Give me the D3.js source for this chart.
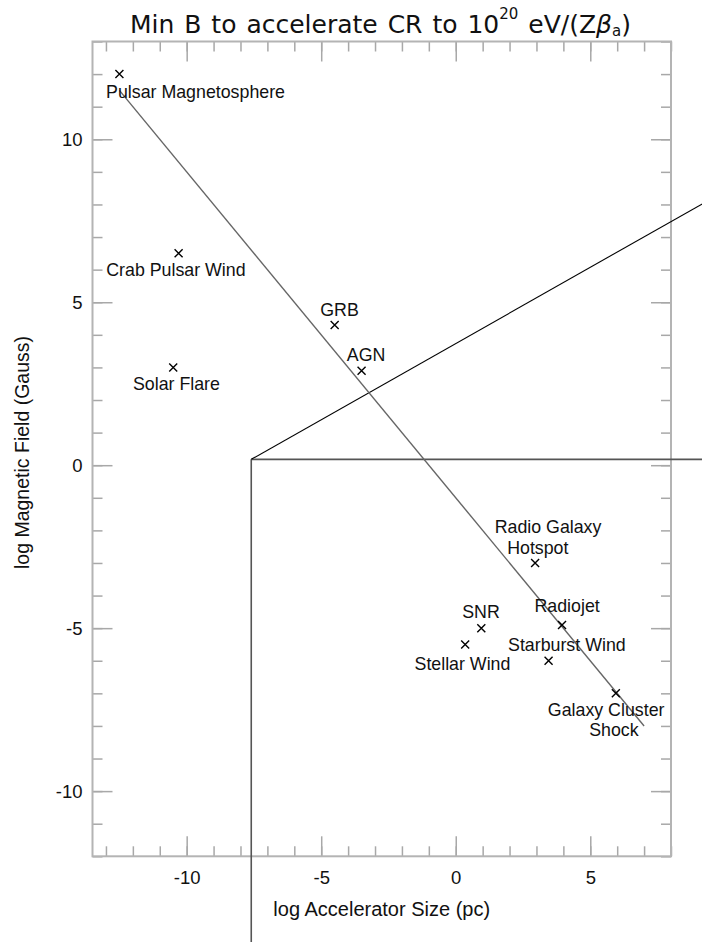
<!DOCTYPE html>
<html><head><meta charset="utf-8">
<script src="https://cdn.jsdelivr.net/npm/d3@7"></script>
<style>html,body{margin:0;padding:0;background:#fff;overflow:hidden;}</style>
</head><body><div id="chart"></div>
<script>
// ---- data ----
const sourceNames = ["Pulsar Magnetosphere","Crab Pulsar Wind","Solar Flare","GRB","AGN",
  "Radio Galaxy Hotspot","Radiojet","SNR","Stellar Wind","Starburst Wind","Galaxy Cluster Shock"];
const logSize = [-12.5, -10.3, -10.5, -4.5, -3.5, 2.95, 3.95, 0.95, 0.35, 3.45, 5.95];
const logField = [12, 6.5, 3, 4.3, 2.9, -3, -4.9, -5, -5.5, -6, -7];

const labelTexts = ["Pulsar Magnetosphere","Crab Pulsar Wind","Solar Flare","GRB","AGN",
  "Radio Galaxy","Hotspot","Radiojet","SNR","Stellar Wind","Starburst Wind","Galaxy Cluster","Shock"];
const labelX = [-9.67, -10.4, -10.38, -4.32, -3.33, 3.43, 3.05, 4.14, 0.94, 0.25, 4.13, 5.59, 5.88];
const labelY = [11.46, 6.0, 2.49, 4.76, 3.38, -1.9, -2.52, -4.31, -4.5, -6.1, -5.52, -7.5, -8.12];

// Hillas condition line: log B + log R = -1
const hillasX = [-12.5, 7];
const hillasY = [11.5, -8];

// extra guide lines (extend beyond the frame)
const guideDiagX = [-7.6, 10],  guideDiagY = [0.18, 8.41];
const guideHorX  = [-7.6, 10],  guideHorY  = [0.18, 0.18];
const guideVerX  = [-7.6, -7.6], guideVerY = [0.18, -15];

const xDomain = [-13.5, 8];
const yDomain = [-12, 13];
const xMajorTicks = [-10, -5, 0, 5];
const yMajorTicks = [-10, -5, 0, 5, 10];
const xMinorTicks = d3.range(-13, 9, 1);
const yMinorTicks = d3.range(-12, 14, 1);

// ---- layout ----
const W = 702, H = 942;
const L = 92.5, R = 671, T = 41.5, B = 856.3;

const svg = d3.select("#chart").append("svg").attr("width", W).attr("height", H)
  .style("display","block");

const x = d3.scaleLinear().domain(xDomain).range([L, R]);
const y = d3.scaleLinear().domain(yDomain).range([B, T]);

const tickColor = "#a8a8a8";
function styleAxis(g) {
  g.select(".domain").remove();
  g.selectAll(".tick line").attr("stroke", tickColor).attr("stroke-width", 1.5);
  g.selectAll(".tick text").attr("fill", "#111")
    .attr("font-family", "Liberation Sans, Arial, sans-serif").attr("font-size", 18.5);
}

// minor ticks
svg.append("g").attr("transform", `translate(0,${B})`)
  .call(d3.axisBottom(x).tickValues(xMinorTicks).tickSize(-10).tickFormat("")).call(styleAxis);
svg.append("g").attr("transform", `translate(0,${T})`)
  .call(d3.axisTop(x).tickValues(xMinorTicks).tickSize(-10).tickFormat("")).call(styleAxis);
svg.append("g").attr("transform", `translate(${L},0)`)
  .call(d3.axisLeft(y).tickValues(yMinorTicks).tickSize(-10).tickFormat("")).call(styleAxis);
svg.append("g").attr("transform", `translate(${R},0)`)
  .call(d3.axisRight(y).tickValues(yMinorTicks).tickSize(-10).tickFormat("")).call(styleAxis);

// major ticks
svg.append("g").attr("transform", `translate(0,${B})`)
  .call(d3.axisBottom(x).tickValues(xMajorTicks).tickSize(-20).tickPadding(15).tickFormat(d3.format("d")))
  .call(styleAxis);
svg.append("g").attr("transform", `translate(0,${T})`)
  .call(d3.axisTop(x).tickValues(xMajorTicks).tickSize(-20).tickFormat("")).call(styleAxis);
svg.append("g").attr("transform", `translate(${L},0)`)
  .call(d3.axisLeft(y).tickValues(yMajorTicks).tickSize(-20).tickPadding(10).tickFormat(d3.format("d")))
  .call(styleAxis);
svg.append("g").attr("transform", `translate(${R},0)`)
  .call(d3.axisRight(y).tickValues(yMajorTicks).tickSize(-20).tickFormat("")).call(styleAxis);

// minus sign as hyphen like the original
svg.selectAll(".tick text").text(function(){ return d3.select(this).text().replace("\u2212","-"); });

// frame
svg.append("rect").attr("x", L).attr("y", T).attr("width", R - L).attr("height", B - T)
  .attr("fill", "none").attr("stroke", "#b4b4b4").attr("stroke-width", 2);

const line = d3.line().x(d => x(d[0])).y(d => y(d[1]));

// guide lines
svg.append("path").attr("d", line(d3.zip(guideVerX, guideVerY)))
  .attr("stroke", "#555").attr("stroke-width", 1.6).attr("fill", "none");
svg.append("path").attr("d", line(d3.zip(guideHorX, guideHorY)))
  .attr("stroke", "#555").attr("stroke-width", 1.6).attr("fill", "none");
svg.append("path").attr("d", line(d3.zip(guideDiagX, guideDiagY)))
  .attr("stroke", "#000").attr("stroke-width", 1.1).attr("fill", "none");

// Hillas line
svg.append("path").attr("d", line(d3.zip(hillasX, hillasY)))
  .attr("stroke", "#666").attr("stroke-width", 1.4).attr("fill", "none");

// markers
const s = 4;
const pts = svg.append("g").selectAll("g").data(d3.zip(logSize, logField)).join("g")
  .attr("transform", d => `translate(${x(d[0])},${y(d[1])})`);
pts.append("path").attr("d", `M${-s},${-s}L${s},${s}M${-s},${s}L${s},${-s}`)
  .attr("stroke", "#000").attr("stroke-width", 1.4).attr("fill", "none");

// labels
svg.append("g").selectAll("text").data(labelTexts).join("text")
  .attr("x", (d, i) => x(labelX[i])).attr("y", (d, i) => y(labelY[i]))
  .attr("dy", "0.35em").attr("text-anchor", "middle")
  .attr("font-family", "Liberation Sans, Arial, sans-serif").attr("font-size", 17.8)
  .attr("fill", "#111").text(d => d);

// axis titles
svg.append("text").attr("x", (L + R) / 2).attr("y", 916).attr("text-anchor", "middle")
  .attr("font-family", "Liberation Sans, Arial, sans-serif").attr("font-size", 20)
  .attr("fill", "#111").text("log Accelerator Size (pc)");
svg.append("text").attr("transform", `translate(29,${452.5}) rotate(-90)`).attr("text-anchor", "middle")
  .attr("font-family", "Liberation Sans, Arial, sans-serif").attr("font-size", 19.5)
  .attr("fill", "#111").text("log Magnetic Field (Gauss)");

// title
const title = svg.append("text").attr("x", 380.5).attr("y", 33.3).attr("text-anchor", "middle")
  .attr("font-family", "DejaVu Sans, sans-serif").attr("font-size", 25).attr("fill", "#111")
  .attr("word-spacing", 2);
title.append("tspan").text("Min B to accelerate CR to 10");
title.append("tspan").attr("font-size", 15).attr("dy", -14).text("20");
title.append("tspan").attr("dy", 14).text(" eV/(Z");
title.append("tspan").attr("font-style", "italic").text("β");
title.append("tspan").attr("font-size", 15).attr("dy", 3).text("a");
title.append("tspan").attr("dy", -3).text(")");
</script>
</body></html>
